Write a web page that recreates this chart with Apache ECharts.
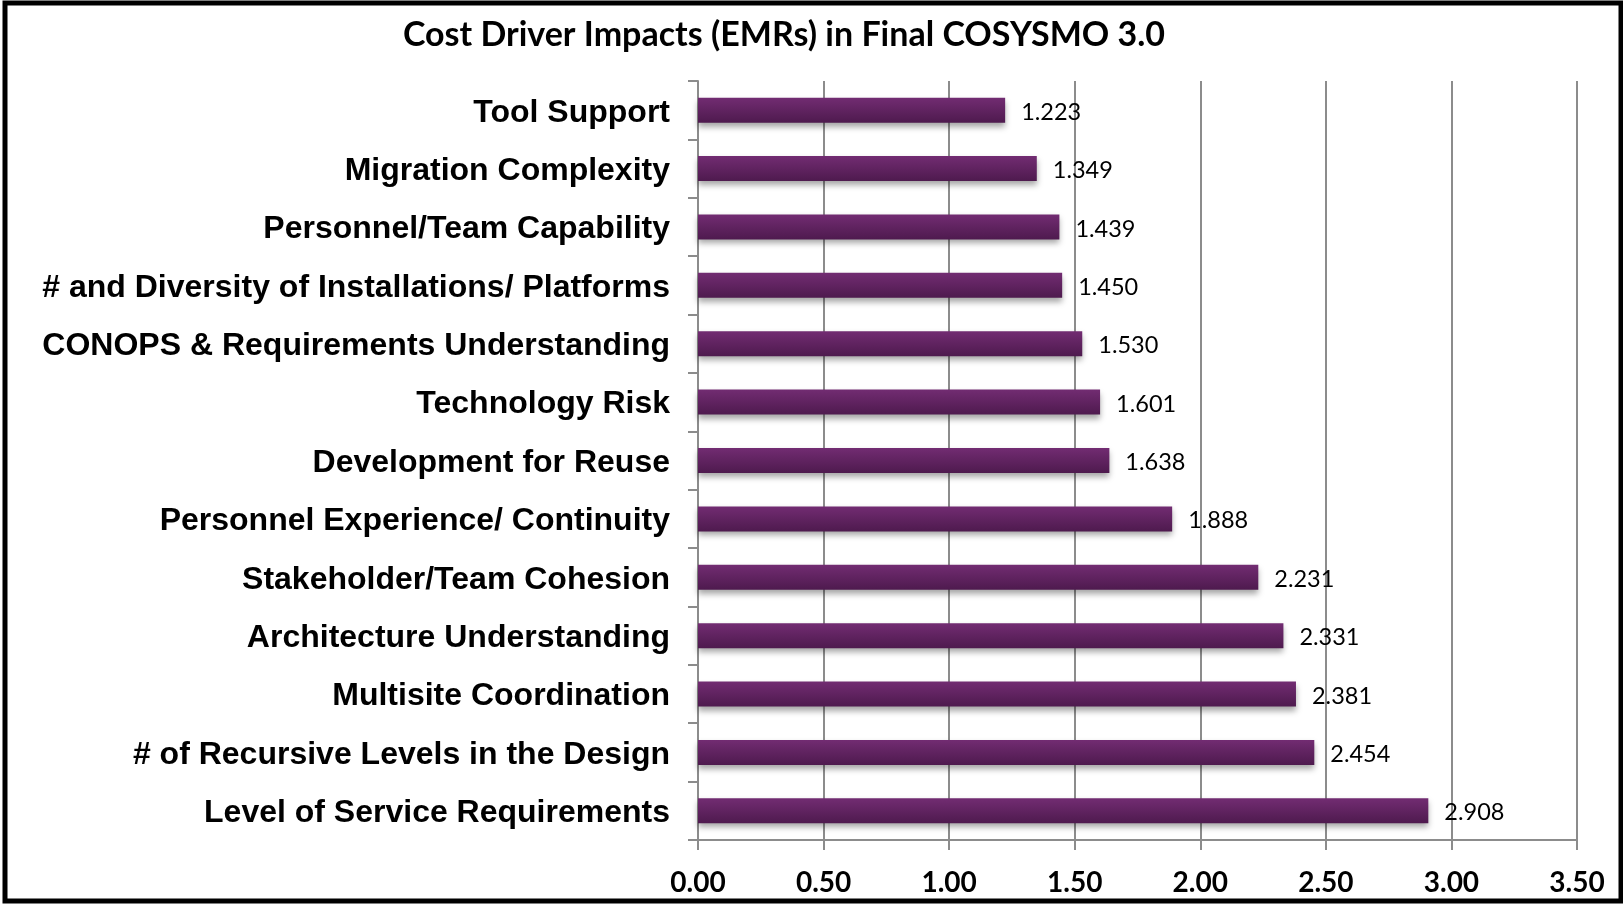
<!DOCTYPE html>
<html>
<head>
<meta charset="utf-8">
<title>Cost Driver Impacts</title>
<script src="https://cdn.jsdelivr.net/npm/echarts@6/dist/echarts.min.js"></script>
<style>
  html, body { margin: 0; padding: 0; background: #fff; }
  #chart { width: 1623px; height: 904px; }
</style>
</head>
<body>
<div id="chart"></div>
<script>
// categories from top to bottom
var drivers = [
  "Tool Support",
  "Migration Complexity",
  "Personnel/Team Capability",
  "# and Diversity of Installations/ Platforms",
  "CONOPS & Requirements Understanding",
  "Technology Risk",
  "Development for Reuse",
  "Personnel Experience/ Continuity",
  "Stakeholder/Team Cohesion",
  "Architecture Understanding",
  "Multisite Coordination",
  "# of Recursive Levels in the Design",
  "Level of Service Requirements"
];
// EMR value for each driver
var emrValues = [1.223, 1.349, 1.439, 1.450, 1.530, 1.601, 1.638, 1.888, 2.231, 2.331, 2.381, 2.454, 2.908];
// x axis range
var xMin = 0;
var xMax = 3.5;
var xStep = 0.5;

var chart = echarts.init(document.getElementById("chart"));

var gray = "#8c8c8c";

chart.setOption({
  animation: false,
  title: {
    text: "Cost Driver Impacts (EMRs) in Final COSYSMO 3.0",
    left: 779,
    textAlign: "center",
    top: 13,
    textStyle: {
      fontFamily: "Lato",
      fontWeight: "bold",
      fontSize: 34,
      color: "#000"
    }
  },
  // black frame round the whole picture
  graphic: [
    {
      type: "rect",
      shape: { x: 5, y: 3, width: 1616, height: 898 },
      style: { fill: "none", stroke: "#000", lineWidth: 5 },
      z: 10
    }
  ],
  grid: {
    left: 698,
    right: 46,
    top: 81,
    bottom: 64
  },
  xAxis: {
    type: "value",
    min: xMin,
    max: xMax,
    interval: xStep,
    axisLine: { show: true, lineStyle: { color: gray, width: 2 } },
    axisTick: { show: true, length: 10, lineStyle: { color: gray, width: 2 } },
    splitLine: { show: true, lineStyle: { color: gray, width: 2 } },
    axisLabel: {
      margin: 29,
      fontFamily: "Lato",
      fontWeight: "bold",
      fontSize: 28,
      color: "#000",
      formatter: function (v) {
        return v.toFixed(2);
      }
    }
  },
  yAxis: {
    type: "category",
    inverse: true,
    data: drivers,
    axisLine: { show: true, lineStyle: { color: gray, width: 2 } },
    axisTick: { show: true, length: 10, lineStyle: { color: gray, width: 2 } },
    axisLabel: {
      margin: 28,
      color: "#000",
      // rich text so the label can sit a little lower
      formatter: function (v) {
        return "{n|" + v + "}";
      },
      rich: {
        n: {
          padding: [5, 0, 0, 0],
          fontFamily: "Liberation Sans",
          fontWeight: "bold",
          fontSize: 32,
          color: "#000"
        }
      }
    }
  },
  series: [
    {
      type: "bar",
      data: emrValues,
      barWidth: 25,
      itemStyle: {
        color: new echarts.graphic.LinearGradient(0, 0, 0, 1, [
          { offset: 0, color: "#722c72" },
          { offset: 1, color: "#4e1a4e" }
        ]),
        shadowBlur: 6,
        shadowOffsetY: 4,
        shadowColor: "rgba(0, 0, 0, 0.35)"
      },
      label: {
        show: true,
        position: "right",
        distance: 16,
        formatter: function (p) {
          return "{v|" + p.value.toFixed(3) + "}";
        },
        rich: {
          v: {
            padding: [4, 0, 0, 0],
            fontFamily: "Lato",
            fontSize: 23.5,
            color: "#000"
          }
        }
      }
    }
  ]
});
</script>
</body>
</html>
